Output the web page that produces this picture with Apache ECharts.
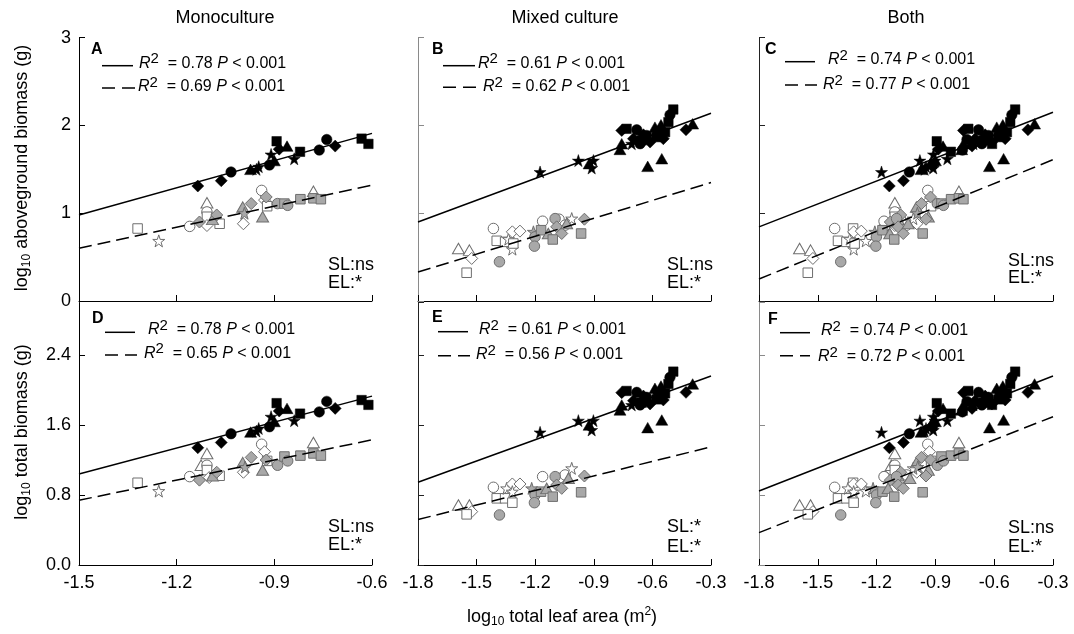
<!DOCTYPE html>
<html><head><meta charset="utf-8">
<script src="https://cdn.jsdelivr.net/npm/echarts@6/dist/echarts.min.js"></script>
<style>html,body{margin:0;padding:0;background:#fff}#c{width:1074px;height:634px}</style>
</head><body><div id="c"></div>
<script>
// ---- DATA ----
// point format: [log10 leaf area, log10 biomass, species index]
// species index: 0 diamond, 1 circle, 2 square, 3 triangle, 4 star
const xTicksMono = [-1.5, -1.2, -0.9, -0.6];
const xTicksMix = [-1.8, -1.5, -1.2, -0.9, -0.6, -0.3];
const yTicksAbove = [0, 1, 2, 3];
const yTicksTotal = [0.0, 0.8, 1.6, 2.4];
const yMaxTotal = 3.0;
const columnTitles = ['Monoculture', 'Mixed culture', 'Both'];
const rowTitles = ['aboveground biomass (g)', 'total biomass (g)'];
const xTitle = 'total leaf area (m';
const panelLetters = ['A', 'B', 'C', 'D', 'E', 'F'];
const r2Solid = ['0.78', '0.61', '0.74', '0.78', '0.61', '0.74'];
const r2Dashed = ['0.69', '0.62', '0.77', '0.65', '0.56', '0.72'];
const pText = '< 0.001';
const slLabels = ['ns', 'ns', 'ns', 'ns', '*', 'ns'];
const elLabels = ['*', '*', '*', '*', '*', '*'];

const A_black = [[-1.135,1.31,0],[-1.063,1.37,0],[-1.033,1.47,1],[-0.973,1.50,3],[-0.955,1.50,4],[-0.948,1.53,4],[-0.915,1.55,1],[-0.91,1.67,4],[-0.90,1.60,3],[-0.893,1.82,2],[-0.885,1.73,0],[-0.861,1.765,3],[-0.839,1.62,4],[-0.821,1.70,2],[-0.762,1.72,1],[-0.739,1.84,1],[-0.713,1.765,0],[-0.632,1.85,2],[-0.611,1.79,2]];
const A_gray = [[-1.13,0.90,0],[-1.09,0.93,3],[-1.077,0.98,0],[-0.997,1.07,3],[-0.992,1.00,4],[-0.971,1.11,0],[-0.936,0.96,3],[-0.925,1.185,0],[-0.89,1.11,1],[-0.869,1.11,2],[-0.859,1.09,1],[-0.82,1.16,2],[-0.78,1.17,2],[-0.757,1.16,2]];
const A_white = [[-1.32,0.826,2],[-1.255,0.685,4],[-1.16,0.85,1],[-1.107,1.12,3],[-1.107,1.015,1],[-1.107,0.96,2],[-1.107,0.86,0],[-1.068,0.88,2],[-0.995,0.88,0],[-0.939,1.26,1],[-0.93,1.15,0],[-0.922,1.08,2],[-0.78,1.25,3]];

const B_black = [[-1.175,1.47,4],[-0.979,1.60,4],[-0.924,1.565,3],[-0.911,1.515,4],[-0.902,1.60,4],[-0.766,1.727,3],[-0.757,1.792,3],[-0.757,1.943,0],[-0.732,1.962,2],[-0.680,1.951,1],[-0.697,1.849,0],[-0.655,1.83,2],[-0.629,1.886,1],[-0.612,1.811,0],[-0.587,1.981,3],[-0.578,1.867,2],[-0.570,1.924,1],[-0.544,1.849,0],[-0.556,2.008,3],[-0.510,2.121,1],[-0.493,2.182,2],[-0.535,1.924,2],[-0.428,1.951,0],[-0.394,2.019,3],[-0.624,1.534,3],[-0.552,1.621,3],[-0.663,1.792,1],[-0.706,1.792,4],[-0.518,2.038,2],[-0.646,1.894,0]];
const B_gray = [[-1.383,0.447,1],[-1.209,0.788,4],[-1.201,0.731,1],[-1.204,0.625,1],[-1.170,0.807,2],[-1.133,0.769,3],[-1.110,0.701,2],[-1.098,0.939,1],[-1.090,0.845,0],[-1.064,0.769,0],[-1.039,0.883,3],[-0.965,0.769,2],[-0.948,0.932,0]];
const B_white = [[-1.593,0.599,3],[-1.537,0.58,3],[-1.525,0.485,0],[-1.551,0.322,2],[-1.414,0.826,1],[-1.397,0.686,2],[-1.354,0.674,2],[-1.337,0.705,4],[-1.317,0.788,0],[-1.278,0.796,0],[-1.317,0.591,4],[-1.312,0.655,2],[-1.162,0.909,1],[-1.078,0.932,1],[-1.047,0.864,1],[-1.013,0.939,4]];

const D_black = [[-1.135,1.34,0],[-1.063,1.40,0],[-1.033,1.50,1],[-0.973,1.52,3],[-0.955,1.53,4],[-0.948,1.56,4],[-0.915,1.58,1],[-0.91,1.695,4],[-0.90,1.64,3],[-0.893,1.85,2],[-0.885,1.76,0],[-0.861,1.79,3],[-0.839,1.65,4],[-0.821,1.73,2],[-0.762,1.75,1],[-0.739,1.87,1],[-0.713,1.79,0],[-0.632,1.885,2],[-0.611,1.83,2]];
const D_gray = [[-1.13,0.97,0],[-1.09,1.02,3],[-1.077,1.06,0],[-0.997,1.17,3],[-0.99,1.12,4],[-0.971,1.23,0],[-0.936,1.085,3],[-0.925,1.20,0],[-0.89,1.14,1],[-0.869,1.24,2],[-0.859,1.19,1],[-0.82,1.25,2],[-0.78,1.275,2],[-0.757,1.25,2]];
const D_white = [[-1.32,0.94,2],[-1.255,0.845,4],[-1.16,1.01,1],[-1.107,1.275,3],[-1.125,1.14,3],[-1.107,1.14,1],[-1.107,1.085,2],[-1.10,1.00,0],[-1.068,1.02,2],[-0.995,1.06,0],[-0.939,1.38,1],[-0.93,1.295,0],[-0.922,1.19,2],[-0.78,1.40,3]];

const E_black = [[-1.175,1.516,4],[-0.979,1.65,4],[-0.924,1.60,3],[-0.911,1.543,4],[-0.902,1.65,4],[-0.766,1.772,3],[-0.757,1.829,3],[-0.757,1.97,0],[-0.732,1.989,2],[-0.680,1.973,1],[-0.697,1.878,0],[-0.655,1.855,2],[-0.629,1.916,1],[-0.612,1.84,0],[-0.587,2.019,3],[-0.578,1.893,2],[-0.570,1.962,1],[-0.544,1.886,0],[-0.556,2.046,3],[-0.510,2.145,1],[-0.493,2.21,2],[-0.535,1.962,2],[-0.428,1.973,0],[-0.394,2.069,3],[-0.624,1.57,3],[-0.552,1.657,3],[-0.663,1.829,1],[-0.706,1.829,4],[-0.518,2.069,2],[-0.646,1.931,0]];
const E_gray = [[-1.383,0.572,1],[-1.218,0.876,4],[-1.201,0.80,1],[-1.204,0.712,1],[-1.170,0.838,2],[-1.141,0.876,3],[-1.110,0.781,2],[-1.098,1.01,1],[-1.090,0.914,0],[-1.064,0.876,0],[-1.030,0.991,3],[-0.965,0.831,2],[-0.948,1.017,0]];
const E_white = [[-1.593,0.686,3],[-1.537,0.686,3],[-1.525,0.61,0],[-1.551,0.579,2],[-1.414,0.888,1],[-1.397,0.762,2],[-1.354,0.762,2],[-1.346,0.876,4],[-1.317,0.926,0],[-1.278,0.926,0],[-1.317,0.838,4],[-1.317,0.712,2],[-1.162,1.01,1],[-1.078,0.991,1],[-1.047,1.029,1],[-1.013,1.105,4]];

// regression line end points [x, y]
const lineA_solid = [[-1.5,0.98],[-0.6,1.91]];
const lineA_dash  = [[-1.5,0.60],[-0.6,1.32]];
const lineB_solid = [[-1.8,0.90],[-0.3,2.14]];
const lineB_dash  = [[-1.8,0.33],[-0.3,1.35]];
const lineC_solid = [[-1.8,0.845],[-0.3,2.15]];
const lineC_dash  = [[-1.8,0.25],[-0.3,1.61]];
const lineD_solid = [[-1.5,1.04],[-0.6,1.93]];
const lineD_dash  = [[-1.5,0.74],[-0.6,1.43]];
const lineE_solid = [[-1.8,0.945],[-0.3,2.16]];
const lineE_dash  = [[-1.8,0.52],[-0.3,1.35]];
const lineF_solid = [[-1.8,0.846],[-0.3,2.16]];
const lineF_dash  = [[-1.8,0.37],[-0.3,1.695]];

// ---- STYLE / LAYOUT ----
const FONT = 'Liberation Sans, Arial, sans-serif';
const STAR = 'path://M50,0 L61.8,35.1 L98.8,35.1 L68.9,57.3 L80.1,92.7 L50,71 L19.9,92.7 L31.1,57.3 L1.2,35.1 L38.2,35.1 Z';
const SYMBOLS = ['diamond', 'circle', 'rect', 'triangle', STAR];
const SIZES = [[12,12],[10.5,10.5],[9.5,9.5],[12,10.5],[12,12]];
const GROUP_STYLE = {
  white: {color: '#ffffff', borderColor: '#6e6e6e', borderWidth: 1, opacity: 1},
  gray:  {color: '#a8a8a8', borderColor: '#6e6e6e', borderWidth: 1, opacity: 1},
  black: {color: '#000000', borderColor: '#000000', borderWidth: 0.5, opacity: 1}
};
const GRID_POS = [
  {left: 79, top: 37.7, width: 293, height: 263.3},
  {left: 418, top: 37.7, width: 293, height: 263.3},
  {left: 759, top: 37.7, width: 294, height: 263.3},
  {left: 79, top: 302.5, width: 293, height: 262.5},
  {left: 418, top: 302.5, width: 293, height: 262.5},
  {left: 759, top: 302.5, width: 294, height: 262.5}
];
const Y_AXIS_COLOR = ['#000', '#8a8a8a', '#222', '#000', '#222', '#8a8a8a'];
const LEG = [
  {letter:[91,50], solid:[102,133,65.7], dash:[102,137,88], r1:[138,63.5], r2:[137,87]},
  {letter:[432,50], solid:[443,475,65.7], dash:[443,477,87.3], r1:[477,63.5], r2:[482,87]},
  {letter:[765,50], solid:[785,815,61.7], dash:[785,817,85], r1:[827,60], r2:[822,85]},
  {letter:[92,319], solid:[105,135,332.3], dash:[105,137,355], r1:[147,330], r2:[143,353.5]},
  {letter:[432,318], solid:[438,468,331.7], dash:[438,470,355.7], r1:[478,330], r2:[475,355]},
  {letter:[768,320], solid:[780,810,332.7], dash:[780,810,355.7], r1:[820,331], r2:[817,357]}
];
const R_SHIFT = 1;
const SLPOS = [[328,265,283],[667,265,283],[1008,261,278],[328,527,545],[667,527,547],[1008,528,547]];

const panels = [
  {black: A_black, gray: A_gray, white: A_white, solid: lineA_solid, dash: lineA_dash},
  {black: B_black, gray: B_gray, white: B_white, solid: lineB_solid, dash: lineB_dash},
  {black: A_black.concat(B_black), gray: A_gray.concat(B_gray), white: A_white.concat(B_white), solid: lineC_solid, dash: lineC_dash},
  {black: D_black, gray: D_gray, white: D_white, solid: lineD_solid, dash: lineD_dash},
  {black: E_black, gray: E_gray, white: E_white, solid: lineE_solid, dash: lineE_dash},
  {black: D_black.concat(E_black), gray: D_gray.concat(E_gray), white: D_white.concat(E_white), solid: lineF_solid, dash: lineF_dash}
];

const grid = [], xAxis = [], yAxis = [], series = [], graphic = [];
const r1 = v => Math.round(v * 10) / 10;

panels.forEach((p, i) => {
  const col = i % 3, row = Math.floor(i / 3);
  const xt = col === 0 ? xTicksMono : xTicksMix;
  const yt = row === 0 ? yTicksAbove : yTicksTotal;
  grid.push(Object.assign({outerBoundsMode: 'none', containLabel: false}, GRID_POS[i]));
  xAxis.push({
    type: 'value', gridIndex: i, min: xt[0], max: xt[xt.length - 1], interval: r1(xt[1] - xt[0]),
    axisLine: {show: true, onZero: false, lineStyle: {color: '#000', width: 1}},
    axisTick: {show: true, inside: true, length: 6, lineStyle: {color: '#000'}},
    axisLabel: {show: row === 1, formatter: v => v.toFixed(1), fontSize: 18, color: '#000', fontFamily: FONT, margin: 9},
    splitLine: {show: false}
  });
  yAxis.push({
    type: 'value', gridIndex: i, min: yt[0], max: row === 0 ? yt[yt.length - 1] : yMaxTotal,
    interval: r1(yt[1] - yt[0]),
    axisLine: {show: true, onZero: false, lineStyle: {color: Y_AXIS_COLOR[i], width: 1}},
    axisTick: {show: true, inside: true, length: 6, lineStyle: {color: Y_AXIS_COLOR[i]}},
    axisLabel: {show: col === 0, showMaxLabel: row === 0, fontSize: 18, color: '#000', fontFamily: FONT, margin: 8,
      formatter: v => row === 0 ? String(Math.round(v)) : v.toFixed(1)},
    splitLine: {show: false}
  });
  ['white', 'gray', 'black'].forEach(g => {
    series.push({
      type: 'scatter', xAxisIndex: i, yAxisIndex: i, data: p[g], silent: true, z: 2,
      symbol: v => SYMBOLS[v[2]], symbolSize: v => SIZES[v[2]],
      itemStyle: GROUP_STYLE[g]
    });
  });
  series.push({type: 'line', xAxisIndex: i, yAxisIndex: i, data: p.solid, symbol: 'none', silent: true, z: 5,
    lineStyle: {color: '#000', width: 1.5, type: 'solid'}});
  series.push({type: 'line', xAxisIndex: i, yAxisIndex: i, data: p.dash, symbol: 'none', silent: true, z: 5,
    lineStyle: {color: '#000', width: 1.5, type: [13, 6]}});

  // in-panel annotations
  const L = LEG[i];
  graphic.push({type: 'text', x: L.letter[0], y: L.letter[1], silent: true,
    style: {text: panelLetters[i], font: 'bold 16px ' + FONT, fill: '#000', align: 'left', verticalAlign: 'middle'}});
  graphic.push({type: 'line', silent: true, shape: {x1: L.solid[0], y1: L.solid[2], x2: L.solid[1], y2: L.solid[2]},
    style: {stroke: '#000', lineWidth: 1.5}});
  graphic.push({type: 'line', silent: true, shape: {x1: L.dash[0], y1: L.dash[2], x2: L.dash[1], y2: L.dash[2]},
    style: {stroke: '#000', lineWidth: 1.5, lineDash: [13, 7]}});
  const richR = {
    i: {fontStyle: 'italic', fontSize: 16, fontFamily: FONT, lineHeight: 24, verticalAlign: 'middle'},
    s: {fontSize: 15, fontFamily: FONT, lineHeight: 12, verticalAlign: 'top'},
    n: {fontSize: 16, fontFamily: FONT, lineHeight: 24, verticalAlign: 'middle'}
  };
  [[L.r1, r2Solid[i]], [L.r2, r2Dashed[i]]].forEach(([pos, val]) => {
    graphic.push({type: 'text', x: pos[0] + R_SHIFT, y: pos[1], silent: true,
      style: {text: '{i|R}{s|2}{n|  = ' + val + ' }{i|P}{n| ' + pText + '}', rich: richR, fill: '#000',
        align: 'left', verticalAlign: 'middle'}});
  });
  const S = SLPOS[i];
  graphic.push({type: 'text', x: S[0], y: S[1], silent: true,
    style: {text: 'SL:' + slLabels[i], font: '18px ' + FONT, fill: '#000', align: 'left', verticalAlign: 'middle'}});
  graphic.push({type: 'text', x: S[0], y: S[2], silent: true,
    style: {text: 'EL:' + elLabels[i], font: '18px ' + FONT, fill: '#000', align: 'left', verticalAlign: 'middle'}});
});

// column titles
const TITLE_X = [225, 565, 906];
columnTitles.forEach((t, c) => {
  graphic.push({type: 'text', x: TITLE_X[c], y: 18, silent: true,
    style: {text: t, font: '18px ' + FONT, fill: '#000', align: 'center', verticalAlign: 'middle'}});
});
const richSub = {
  n: {fontSize: 18, fontFamily: FONT, lineHeight: 22, verticalAlign: 'middle'},
  b: {fontSize: 12, fontFamily: FONT, lineHeight: 12, verticalAlign: 'bottom'},
  t: {fontSize: 12, fontFamily: FONT, lineHeight: 12, verticalAlign: 'top'}
};
const ROW_Y = [168, 432];
rowTitles.forEach((t, r) => {
  graphic.push({type: 'text', x: 22, y: ROW_Y[r], rotation: Math.PI / 2, silent: true,
    style: {text: '{n|log}{b|10}{n| ' + t + '}', rich: richSub, fill: '#000', align: 'center', verticalAlign: 'middle'}});
});
graphic.push({type: 'text', x: 562, y: 617, silent: true,
  style: {text: '{n|log}{b|10}{n| ' + xTitle + '}{t|2}{n|)}', rich: richSub, fill: '#000', align: 'center', verticalAlign: 'middle'}});

const chart = echarts.init(document.getElementById('c'), null, {renderer: 'canvas'});
chart.setOption({
  animation: false,
  backgroundColor: '#fff',
  grid, xAxis, yAxis, series, graphic
});
</script>
</body></html>
